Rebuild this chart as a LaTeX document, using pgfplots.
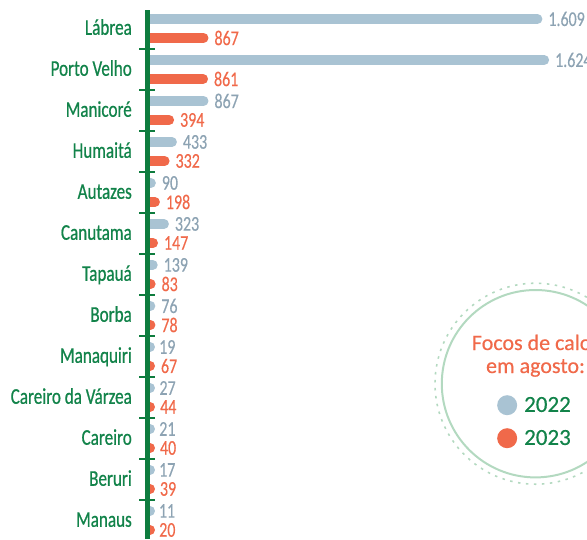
\documentclass[border=0pt]{standalone}
\usepackage{pgfplots}
\usepackage{pgfplotstable}
\pgfplotsset{compat=1.18}
\usepackage{fontspec}
\setmainfont{Carlito}[FakeBold=0.4]
\newfontfamily\condfont{Carlito}[FakeStretch=0.76, FakeBold=0.7]
\newfontfamily\valfont{Carlito}[FakeStretch=0.76, FakeBold=0.35]
\newfontfamily\legfont{Carlito}[FakeBold=0.5]
\definecolor{ggreen}{HTML}{12834A}
\definecolor{axgreen}{HTML}{0E7C3E}
\definecolor{barblue}{HTML}{A9C3D3}
\definecolor{labblue}{HTML}{8DA3B3}
\definecolor{orng}{HTML}{F0694A}
\definecolor{ring}{HTML}{B3D9C0}

% 2022
\pgfplotstableread{
i v lab
0 1609 1.609
1 1624 1.624
2 867 867
3 433 433
4 90 90
5 323 323
6 139 139
7 76 76
8 19 19
9 27 27
10 21 21
11 17 17
12 11 11
}\tabA
% 2023
\pgfplotstableread{
i v lab
0 867 867
1 861 861
2 394 394
3 332 332
4 198 198
5 147 147
6 83 83
7 78 78
8 67 67
9 44 44
10 40 40
11 39 39
12 20 20
}\tabB

\begin{document}
\begin{tikzpicture}
\begin{axis}[
  at={(147.5pt,-10pt)}, anchor=north west,
  x=1pt, y=41pt, y dir=reverse,
  xmin=0, xmax=1748, ymin=-0.45, ymax=12.45,
  x coord trafo/.code={\pgfmathparse{#1<=200 ? -2.5+0.0375*#1 : (#1<=867 ? 5+0.0727*(#1-200) : 53.5+0.45*(#1-867))}},
  hide x axis,
  axis y line*=left,
  y axis line style={draw=axgreen, line width=5pt},
  axis on top,
  ytick={0,...,12},
  yticklabels={Lábrea, Porto Velho, Manicoré, Humaitá, Autazes, Canutama, Tapauá, Borba, Manaquiri, Careiro da Várzea, Careiro, Beruri, Manaus},
  major tick length=0pt,
  minor ytick={0.5,1.5,...,11.5},
  minor tick length=16pt,
  tick align=center,
  minor tick style={draw=axgreen, line width=2pt},
  yticklabel style={font=\condfont\fontsize{22.5}{24}\selectfont, text=ggreen, anchor=base east, inner sep=0pt, xshift=-15.5pt, yshift=-6.3pt},
  point meta=explicit symbolic,
  every node near coord/.append style={anchor=west, inner sep=0pt, xshift=6pt, font=\valfont\fontsize{21}{22}\selectfont},
  legend style={draw=none, fill=none, at={(axis description cs:0.7724,0.2721)}, anchor=north west,
    font=\legfont\fontsize{23}{26}\selectfont, text=ggreen, inner sep=0pt, row sep=13pt, column sep=7pt,
    nodes={inner sep=0pt}},
  legend cell align=left,
]
\addplot[xcomb, mark=none, draw=barblue, line width=10pt, line cap=round,
  nodes near coords, every node near coord/.append style={text=labblue},
  legend image code/.code={\path[fill=barblue, draw=none] (10pt,0pt) circle (10pt);}]
  table[x=v, y expr=\thisrow{i}-0.232, meta=lab] {\tabA};
\addlegendentry{2022}
\addplot[xcomb, mark=none, draw=orng, line width=10pt, line cap=round,
  nodes near coords, every node near coord/.append style={text=orng},
  legend image code/.code={\path[fill=orng, draw=none] (10pt,0pt) circle (10pt);}]
  table[x=v, y expr=\thisrow{i}+0.232, meta=lab] {\tabB};
\addlegendentry{2023}
\end{axis}
\draw[ring, line width=2pt] (535.5pt,-383.7pt) circle (93.7pt);
\draw[ring, line width=1.6pt, dash pattern=on 2.5pt off 5.5pt] (535.5pt,-383.7pt) circle (100.5pt);
\node[font=\legfont\fontsize{22}{24}\selectfont, text=orng, anchor=base, inner sep=0pt] at (535.5pt,-350pt) {Focos de calor};
\node[font=\legfont\fontsize{22}{24}\selectfont, text=orng, anchor=base, inner sep=0pt] at (535.5pt,-373pt) {em agosto:};
\pgfresetboundingbox
\useasboundingbox (0,0) rectangle (587pt,-539pt);
\end{tikzpicture}
\end{document}
